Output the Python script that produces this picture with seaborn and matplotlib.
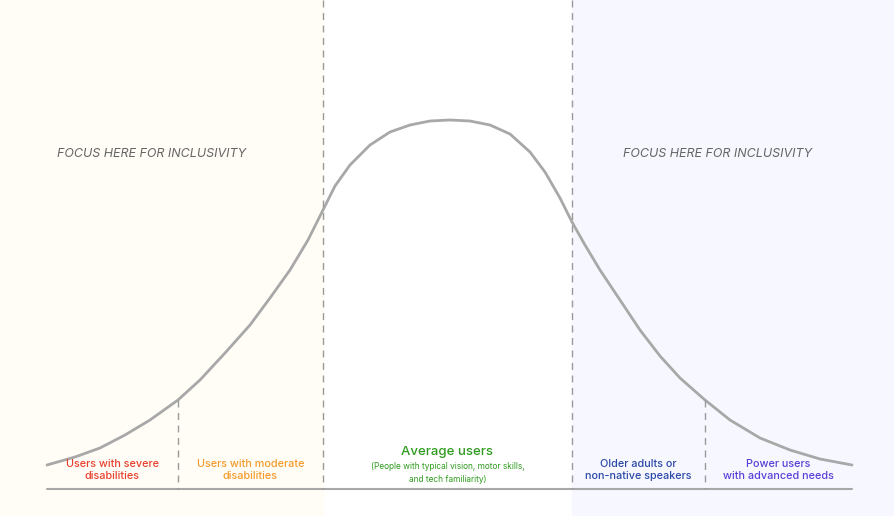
import matplotlib
matplotlib.use("Agg")
import matplotlib.pyplot as plt
import seaborn as sns

sns.set_style("white")
plt.rcParams["font.family"] = ["Inter", "DejaVu Sans"]

# curve (x position, height from top)
curve_x = [47, 75, 100, 125, 150, 178, 200, 225, 250, 270, 290, 308, 323, 335, 350,
           370, 390, 410, 430, 450, 470, 490, 510, 530, 545, 560, 572, 585, 600,
           620, 640, 660, 680, 705, 730, 760, 790, 820, 852]
curve_y = [465, 457, 448, 435, 420, 400, 380, 353, 325, 298, 270, 240, 210, 186, 165,
           145, 132, 125, 121, 120, 121, 125, 134, 152, 172, 198, 222, 245, 270,
           300, 330, 356, 378, 400, 420, 438, 450, 459, 465]

zone_edges = [47, 178, 323, 572, 705, 852]
zone_labels = ["Users with severe\ndisabilities", "Users with moderate\ndisabilities",
               "Average users", "Older adults or\nnon-native speakers",
               "Power users\nwith advanced needs"]
zone_colors = ["#e8402f", "#f59a2c", "#2e9b1e", "#2a48a6", "#5a3fd8"]
sub_label = "(People with typical vision, motor skills,\nand tech familiarity)"
focus_text = "FOCUS HERE FOR INCLUSIVITY"

fig = plt.figure(figsize=(8.95, 5.16), dpi=100)
ax = fig.add_axes([0, 0, 1, 1])
ax.set_xlim(0, 895)
ax.set_ylim(516, 0)
ax.axis("off")

ax.axvspan(0, zone_edges[2], color="#fffdf6", zorder=0)
ax.axvspan(zone_edges[3], 895, color="#f7f8ff", zorder=0)

sns.lineplot(x=curve_x, y=curve_y, ax=ax, color="#a8a8a8", linewidth=2, sort=False)
ax.plot([zone_edges[0], zone_edges[-1]], [489, 489], color="#a8a8a8", lw=1.5)

for x in (zone_edges[2], zone_edges[3]):
    ax.plot([x, x], [0, 489], color="#9a9a9a", lw=1, ls=(0, (5, 4)))
for x in (zone_edges[1], zone_edges[4]):
    ax.plot([x, x], [400, 489], color="#9a9a9a", lw=1, ls=(0, (5, 4)))

for i, (lab, col) in enumerate(zip(zone_labels, zone_colors)):
    cx = (zone_edges[i] + zone_edges[i + 1]) / 2
    if i == 2:
        ax.text(cx, 452, lab, color=col, fontsize=9.5, fontweight="medium",
                ha="center", va="center")
        ax.text(cx, 473, sub_label, color=col, fontsize=6, ha="center", va="center",
                linespacing=1.5)
    else:
        ax.text(cx, 470, lab, color=col, fontsize=7.8, fontweight="medium",
                ha="center", va="center", linespacing=1.3)

for cx in (152, 718):
    ax.text(cx, 154, focus_text, color="#666666", fontsize=9, style="italic",
            ha="center", va="center")

fig.savefig("out.png")
